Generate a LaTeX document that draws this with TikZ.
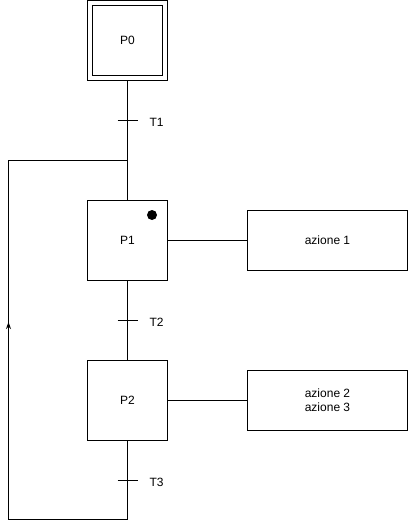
\documentclass[tikz,border=0pt]{standalone}
\usepackage{fontspec}
\setmainfont{Liberation Sans}
\usetikzlibrary{arrows.meta}
\begin{document}
\begin{tikzpicture}[x=1pt,y=-1pt,line width=1pt,
  place/.style={draw,minimum width=80pt,minimum height=80pt,inner sep=0pt,font=\fontsize{12}{14}\selectfont},
  action/.style={draw,minimum width=160pt,minimum height=60pt,inner sep=0pt,align=center,font=\fontsize{12}{14}\selectfont},
  tick/.style={draw,minimum width=20pt,minimum height=0pt,inner sep=0pt},
  lab/.style={font=\fontsize{12}{14}\selectfont,anchor=west,inner sep=0pt}]
\useasboundingbox (0,0) rectangle (408,529);
\node[place,minimum width=80pt,minimum height=80pt] (p0) at (127.5,40.5) {P0};
\node[draw,minimum width=70pt,minimum height=70pt,inner sep=0pt] (p0i) at (127.5,40.5) {};
\node[place] (p1) at (127.5,240.5) {P1};
\node[place] (p2) at (127.5,400.5) {P2};
\fill (152,215) circle (5pt);
\node[action] (a1) at (327.5,240.5) {azione 1};
\node[action] (a2) at (327.5,400.5) {azione 2\\azione 3};
\coordinate (t1) at (127.5,120.5);
\coordinate (t2) at (127.5,320.5);
\coordinate (t3) at (127.5,480.5);
\draw (t1 -| p0.south) ++(-10,0) -- ++(20,0);
\draw (t2) ++(-10,0) -- ++(20,0);
\draw (t3) ++(-10,0) -- ++(20,0);
\node[lab] (l1) at (149,122.5) {T1};
\node[lab] (l2) at (149,322.5) {T2};
\node[lab] (l3) at (149,482.5) {T3};
\coordinate (j) at (127.5,160.5);
\coordinate (bl) at (8.5,519.5);
\coordinate (tl) at (8.5,160.5);
\coordinate (ar) at (8.5,322);
\draw (p0.south) -- (p1.north);
\draw (p1.south) -- (p2.north);
\draw (p2.south) -- (p2.south |- bl) -- (bl) -- (tl) -- (j);
\draw[-{Stealth[length=7pt,width=5pt]}] (bl) -- (ar);
\draw (p1.east) -- (a1.west);
\draw (p2.east) -- (a2.west);
\end{tikzpicture}
\end{document}
